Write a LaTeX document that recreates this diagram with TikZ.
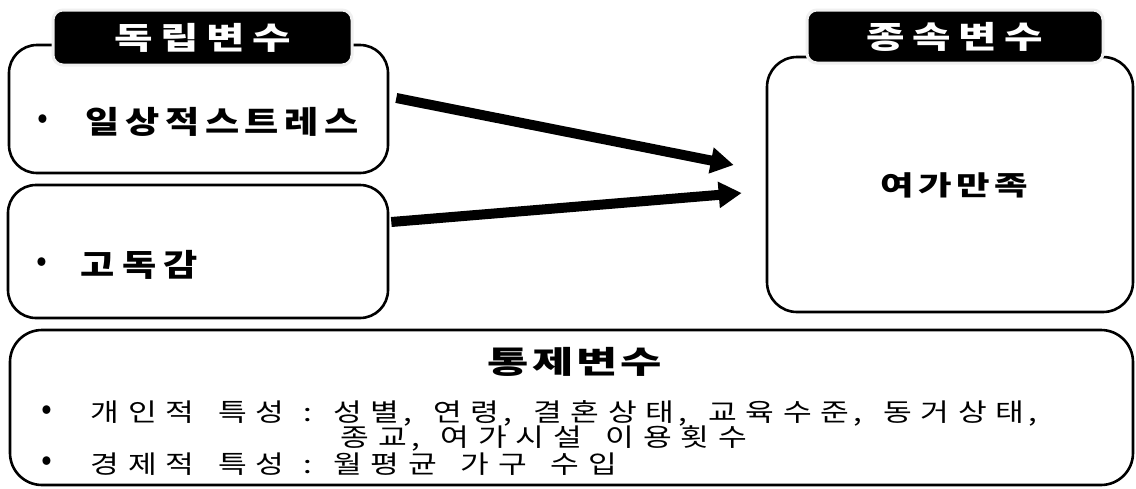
\documentclass[tikz,border=0pt]{standalone}
\usepackage{fontspec}
\setmainfont{Noto Sans CJK KR}
\newfontfamily\labfont{Noto Sans CJK KR}[FakeStretch=1.35]
\newfontfamily\itemfont{Noto Sans CJK KR}[FakeStretch=1.2]
\newfontfamily\depfont{Noto Sans CJK KR}[FakeStretch=1.35]
\newfontfamily\ctlfont{Noto Sans CJK KR}[FakeStretch=1.45]
\newfontfamily\bodyfont{Noto Sans CJK KR}[FakeStretch=1.25]
\newfontfamily\bulfont{Noto Sans CJK KR}
\usetikzlibrary{arrows.meta,calc}
\ExplSyntaxOn
\dim_new:N \l_rs_p_dim
\dim_new:N \l_rs_c_dim
\dim_new:N \l_rs_s_dim
\seq_new:N \l_rs_words_seq
\cs_new_protected:Npn \rs_char:n #1
  {
    \str_if_in:nnTF { ,:. } {#1}
      { \makebox[\l_rs_c_dim][l]{#1} }
      { \makebox[\l_rs_p_dim][c]{#1} }
  }
\cs_new_protected:Npn \rs_word:n #1 { \tl_map_function:nN {#1} \rs_char:n }
\NewDocumentCommand \spread { m m m m }
  {
    \dim_set:Nn \l_rs_p_dim {#1}
    \dim_set:Nn \l_rs_c_dim {#2}
    \dim_set:Nn \l_rs_s_dim {#3}
    \seq_set_split:Nnn \l_rs_words_seq { ~ } {#4}
    \seq_map_indexed_inline:Nn \l_rs_words_seq
      { \int_compare:nNnT {##1} > {1} { \hspace*{\l_rs_s_dim} } \rs_word:n {##2} }
  }
\ExplSyntaxOff
\begin{document}
\begin{tikzpicture}[x=1pt,y=-1pt,
  box/.style={draw=black,line width=2.6pt,rounded corners=28pt,fill=white,inner sep=0pt},
  lab/.style={fill=black,draw=white!88!gray,line width=3pt,rounded corners=10pt,text=white,
    font=\labfont\bfseries\fontsize{31}{33}\selectfont,inner sep=0pt},
  item/.style={anchor=west,inner sep=0pt,font=\itemfont\bfseries\fontsize{31}{33}\selectfont},
  bul/.style={inner sep=0pt,font=\bulfont\fontsize{32}{34}\selectfont},
  body/.style={anchor=west,inner sep=0pt,font=\bodyfont\fontsize{25}{26}\selectfont},
  bigarrow/.style={line width=10pt,-{Triangle[length=23pt,width=25pt]}}]
\useasboundingbox (0,0) rectangle (1136,488);
\fill[white] (0,0) rectangle (1136,488);
% boxes
\node[box,minimum width=379pt,minimum height=128pt] (box1) at (198.5,109) {};
\node[box,minimum width=380pt,minimum height=133pt] (box2) at (198,251.5) {};
\node[box,minimum width=366pt,minimum height=255pt,rounded corners=30pt] (rbox) at (950,184.5) {};
\node[box,minimum width=1123pt,minimum height=155pt,rounded corners=32pt] (cbox) at (571.5,407.5) {};
% labels
\node[lab,minimum width=299pt,minimum height=55pt] (lab1) at (202.5,37.5) {\spread{46pt}{12pt}{12pt}{독립변수}};
\node[lab,minimum width=296pt,minimum height=53pt] (lab2) at (955,36.5) {\spread{46pt}{12pt}{12pt}{종속변수}};
% items
\node[bul] (b1) at (43,122) {•};
\node[item] (t1) at (83,122) {\spread{39.7pt}{12pt}{12pt}{일상적스트레스}};
\node[bul] (b2) at (42,265) {•};
\node[item] (t2) at (77,265) {\spread{41.5pt}{12pt}{12pt}{고독감}};
\node[font=\depfont\bfseries\fontsize{27}{29}\selectfont,inner sep=0pt] (dep) at (954,185) {\spread{38pt}{12pt}{12pt}{여가만족}};
% control
\node[font=\ctlfont\bfseries\fontsize{31}{33}\selectfont,inner sep=0pt] (ctl) at (575,362) {\spread{44.4pt}{12pt}{12pt}{통제변수}};
\node[bul] (b3) at (47,413) {•};
\node[body] (l1) at (86,413) {\spread{37.5pt}{10pt}{15pt}{개인적 특성 : 성별, 연령, 결혼상태, 교육수준, 동거상태,}};
\node[body] (l2) at (336,438) {\spread{37.5pt}{10pt}{15pt}{종교, 여가시설 이용횟수}};
\node[bul] (b4) at (47,464) {•};
\node[body] (l3) at (86,464) {\spread{37.5pt}{10pt}{15pt}{경제적 특성 : 월평균 가구 수입}};
% arrows
\draw[bigarrow] ($(box1.east)+(7,-11)$) -- ($(rbox.west)+(-32,-19.5)$);
\draw[bigarrow] ($(box2.east)+(2,-29.5)$) -- ($(rbox.west)+(-24,8.5)$);
\end{tikzpicture}
\end{document}
